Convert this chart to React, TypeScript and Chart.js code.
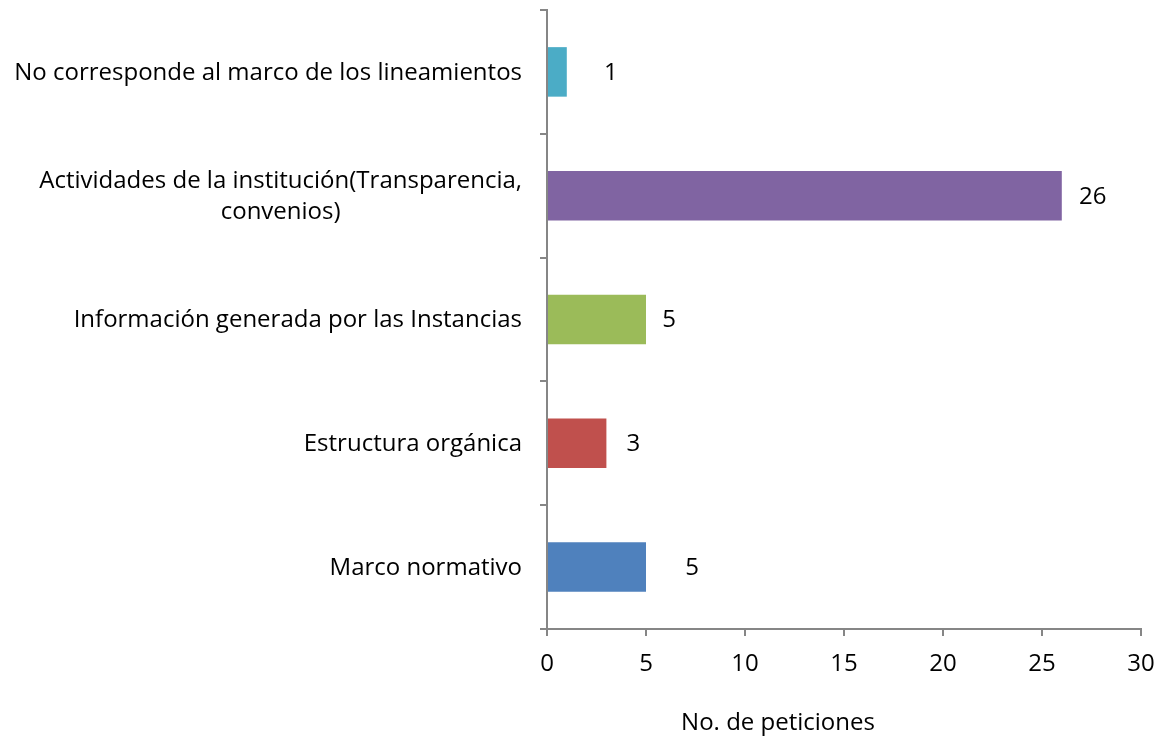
import { useEffect, useRef } from "react";
import { Chart, registerables } from "chart.js";

Chart.register(...registerables);

const CATEGORIES: string[][] = [
  ["No corresponde al marco de los lineamientos"],
  ["Actividades de la institución(Transparencia,", "convenios)"],
  ["Información generada por las Instancias"],
  ["Estructura orgánica"],
  ["Marco normativo"],
];
const VALUES = [1, 26, 5, 3, 5];
const COLORS = ["#4BACC6", "#8064A2", "#9BBB59", "#C0504D", "#4F81BD"];
const X_MIN = 0;
const X_MAX = 30;
const X_STEP = 5;
const X_TITLE = "No. de peticiones";

const FONT_FAMILY = '"Open Sans", "Lato", sans-serif';
const FONT_SIZE = 24;
const AXIS_COLOR = "#868686";
const LABEL_GAP = [44, 31, 23, 27, 46];

const textPlugin = {
  id: "customText",
  afterDraw(chart: any) {
    const ctx = chart.ctx;
    const yScale = chart.scales.y;
    const area = chart.chartArea;
    ctx.save();
    ctx.font = `${FONT_SIZE}px ${FONT_FAMILY}`;
    ctx.fillStyle = "#000";
    ctx.textBaseline = "middle";
    ctx.textAlign = "center";
    const lh = 31;
    CATEGORIES.forEach((lines, i) => {
      const cy = yScale.getPixelForValue(i);
      const maxW = Math.max(...lines.map((l) => ctx.measureText(l).width));
      const right = area.left - 25;
      lines.forEach((l, j) => {
        const ly = cy + 1 + (j - (lines.length - 1) / 2) * lh;
        ctx.fillText(l, right - maxW / 2, ly);
      });
    });
    const meta = chart.getDatasetMeta(0);
    meta.data.forEach((bar: any, i: number) => {
      ctx.fillText(String(VALUES[i]), bar.x + LABEL_GAP[i], bar.y + 1);
    });
    ctx.fillText(X_TITLE, area.left + 231, area.bottom + 94);
    ctx.restore();
  },
};

export default function App() {
  const ref = useRef<HTMLCanvasElement>(null);
  useEffect(() => {
    if (!ref.current) return;
    const chart = new Chart(ref.current, {
      type: "bar",
      data: {
        labels: CATEGORIES.map((l) => l.join(" ")),
        datasets: [
          {
            data: VALUES,
            backgroundColor: COLORS,
            borderWidth: 0,
            barPercentage: 0.4,
            categoryPercentage: 1,
          },
        ],
      },
      options: {
        indexAxis: "y",
        animation: false,
        responsive: false,
        maintainAspectRatio: false,
        layout: { padding: { top: 10, right: 22, left: 0, bottom: 0 } },
        plugins: {
          legend: { display: false },
          tooltip: { enabled: false },
          title: { display: false },
        },
        scales: {
          x: {
            type: "linear",
            min: X_MIN,
            max: X_MAX,
            ticks: {
              stepSize: X_STEP,
              color: "#000",
              font: { family: FONT_FAMILY, size: FONT_SIZE },
              padding: 14,
              maxRotation: 0,
            },
            grid: {
              drawOnChartArea: false,
              drawTicks: true,
              tickLength: 7,
              color: AXIS_COLOR,
              lineWidth: 2,
            },
            border: { color: AXIS_COLOR, width: 2 },
            afterFit: (scale: any) => {
              scale.height = 113;
              scale.paddingLeft = 0;
              scale.paddingRight = 0;
            },
          },
          y: {
            type: "category",
            ticks: { display: false },
            grid: {
              offset: true,
              drawOnChartArea: false,
              drawTicks: true,
              tickLength: 7,
              color: AXIS_COLOR,
              lineWidth: 2,
            },
            border: { color: AXIS_COLOR, width: 2 },
            afterFit: (scale: any) => {
              scale.width = 547;
              scale.paddingTop = 0;
              scale.paddingBottom = 0;
            },
          },
        },
      },
      plugins: [textPlugin],
    } as any);
    return () => chart.destroy();
  }, []);
  return (
    <div style={{ position: "fixed", left: 0, top: 0, width: 1163, height: 742, background: "#fff" }}>
      <canvas ref={ref} width={1163} height={742} style={{ width: 1163, height: 742 }} />
    </div>
  );
}
